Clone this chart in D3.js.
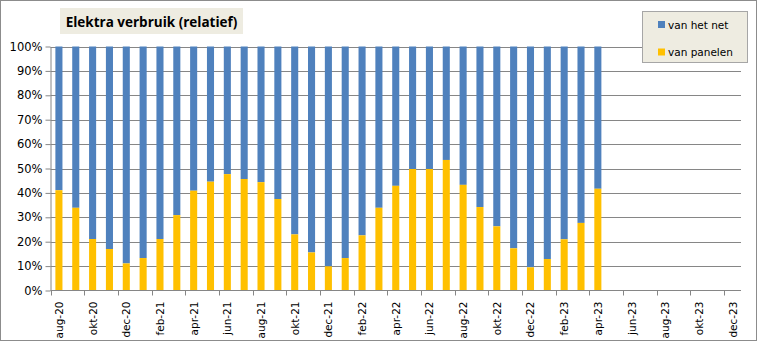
<!DOCTYPE html>
<html><head><meta charset="utf-8">
<script src="https://cdn.jsdelivr.net/npm/d3@7"></script>
<style>body{margin:0;background:#fff}svg{display:block}</style>
</head><body>
<svg id="c" width="757" height="341"></svg>
<script>
const months = ["aug-20","sep-20","okt-20","nov-20","dec-20","jan-21","feb-21","mrt-21","apr-21","mei-21","jun-21","jul-21","aug-21","sep-21","okt-21","nov-21","dec-21","jan-22","feb-22","mrt-22","apr-22","mei-22","jun-22","jul-22","aug-22","sep-22","okt-22","nov-22","dec-22","jan-23","feb-23","mrt-23","apr-23","mei-23","jun-23","jul-23","aug-23","sep-23","okt-23","nov-23","dec-23"];
const panelen = [41.1,33.9,21.1,17.0,11.1,13.3,21.1,30.9,40.9,44.6,47.7,45.7,44.4,37.5,23.0,15.6,9.9,13.3,22.6,33.9,42.9,49.8,49.8,53.5,43.3,34.2,26.3,17.3,9.5,12.9,21.0,27.7,41.7];
const yTicks = [0,10,20,30,40,50,60,70,80,90,100];
const seriesNames = ["van het net","van panelen"];
const colors = {"van het net":"#4F81BD","van panelen":"#FFC000"};
const title = "Elektra verbruik (relatief)";

const svg = d3.select("#c");
svg.append("rect").attr("x",0.5).attr("y",0.5).attr("width",756).attr("height",340)
  .attr("fill","#fff").attr("stroke","#8c8c8c");

const L=50.5, R=741, T=46.5, B=290.5;
const x = d3.scaleBand().domain(months).range([L,R]).paddingInner(0.58).paddingOuter(0.29);
const y = d3.scaleLinear().domain([0,100]).range([B,T]);

svg.append("g").selectAll("line").data(yTicks.filter(d=>d>0)).join("line")
  .attr("x1",L).attr("x2",R).attr("y1",d=>Math.round(y(d))+0.5).attr("y2",d=>Math.round(y(d))+0.5)
  .attr("stroke","#868686");

const data = panelen.map((v,i)=>({m:months[i], p:v}));
const g = svg.append("g");
g.selectAll("rect.net").data(data).join("rect")
  .attr("x",d=>x(d.m)).attr("width",x.bandwidth())
  .attr("y",y(100)).attr("height",d=>y(d.p)-y(100)).attr("fill",colors["van het net"]);
g.selectAll("rect.pan").data(data).join("rect")
  .attr("x",d=>x(d.m)).attr("width",x.bandwidth())
  .attr("y",d=>y(d.p)).attr("height",d=>y(0)-y(d.p)).attr("fill",colors["van panelen"]);

const ya = svg.append("g").attr("transform",`translate(${L},0)`)
  .call(d3.axisLeft(y).tickValues(yTicks).tickFormat(d=>d+"%").tickSize(5).tickSizeOuter(0));
ya.select(".domain").attr("stroke","#868686");
ya.selectAll(".tick line").attr("stroke","#868686");
ya.selectAll(".tick text").attr("font-family","'DejaVu Sans', sans-serif").attr("font-size","11.5px").attr("fill","#000").attr("x",-8);

const xa = svg.append("g").attr("transform",`translate(0,${B})`);
xa.append("line").attr("x1",L).attr("x2",R).attr("stroke","#868686");
const step = x.step();
const tickIdx = months.map((m,i)=>i).filter(i=>i%2===0);
xa.selectAll("line.t").data(tickIdx).join("line")
  .attr("x1",i=>Math.round(L+i*step)+0.5).attr("x2",i=>Math.round(L+i*step)+0.5)
  .attr("y1",0).attr("y2",5).attr("stroke","#868686");
xa.selectAll("text").data(tickIdx).join("text")
  .attr("transform",i=>`translate(${x(months[i])+x.bandwidth()/2+4},11) rotate(-90)`)
  .attr("text-anchor","end")
  .attr("font-family","'DejaVu Sans', sans-serif").attr("font-size","10.5px").attr("fill","#000")
  .text(i=>months[i]);

svg.append("rect").attr("x",60).attr("y",8).attr("width",183).attr("height",26).attr("fill","#EEECE1");
svg.append("text").attr("x",151.5).attr("y",26.5).attr("text-anchor","middle")
  .attr("font-family","'Open Sans', sans-serif").attr("font-weight","bold").attr("font-size","13.5px")
  .text(title);

const lg = svg.append("g");
lg.append("rect").attr("x",642.5).attr("y",11.5).attr("width",105).attr("height",51)
  .attr("fill","#EEECE1").attr("stroke","#a6a6a6");
seriesNames.forEach((s,i)=>{
  const yy = 25 + i*27.5;
  lg.append("rect").attr("x",658).attr("y",yy-4).attr("width",7).attr("height",7).attr("fill",colors[s]);
  lg.append("text").attr("x",668).attr("y",yy+3.5)
    .attr("font-family","'DejaVu Sans', sans-serif").attr("font-size","10.5px").text(s);
});
</script>
</body></html>
